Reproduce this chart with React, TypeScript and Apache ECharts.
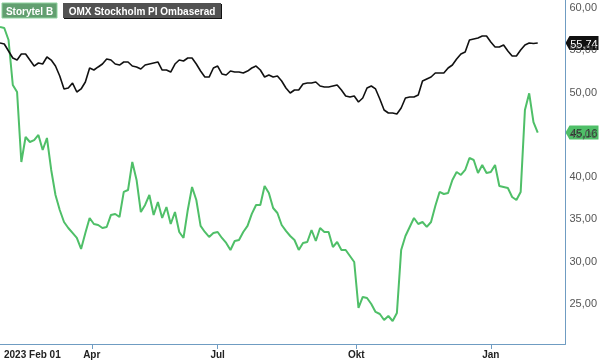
import React, { useEffect, useRef } from 'react';
import * as echarts from 'echarts';

// Sampled every 2nd trading day from 2023-02-01 to 2024-02-01
const storytelB = [
  57.64, 57.52, 56.10, 50.78, 49.95, 41.67, 44.63, 44.04, 44.27, 44.87,
  43.09, 44.51, 40.73, 37.77, 36.00, 34.58, 33.87, 33.28, 32.69, 31.39,
  33.28, 35.05, 34.34, 34.22, 33.87, 33.99, 35.41, 35.53, 35.17, 38.13,
  38.36, 41.67, 39.55, 35.76, 36.59, 37.77, 35.41, 36.94, 35.05, 36.35,
  34.34, 35.76, 33.40, 32.69, 36.00, 38.72, 37.18, 34.11, 33.40, 32.81,
  33.28, 33.40, 32.69, 32.10, 31.27, 32.33, 32.45, 33.40, 34.11, 35.53,
  36.59, 36.59, 38.84, 38.01, 36.23, 35.64, 34.22, 33.52, 32.92, 32.45,
  31.27, 32.10, 32.21, 33.63, 32.33, 33.87, 33.40, 33.40, 31.62, 32.21,
  31.27, 31.27, 30.56, 29.85, 24.41, 25.71, 25.59, 24.88, 23.94, 23.70,
  22.99, 23.46, 22.87, 23.82, 31.27, 32.92, 33.99, 35.05, 34.34, 34.58,
  33.99, 34.58, 36.47, 38.13, 37.89, 38.01, 39.55, 40.49, 40.14, 40.73,
  42.15, 41.91, 40.37, 41.32, 40.37, 40.49, 41.32, 38.84, 38.72, 38.60,
  37.54, 37.18, 38.13, 47.82, 49.80, 46.40, 45.16,
];

const omxPI = [
  55.74, 55.63, 54.80, 53.97, 53.73, 54.44, 54.44, 53.73, 53.02, 53.38,
  53.26, 54.09, 53.73, 53.02, 51.84, 50.31, 50.42, 51.01, 49.95, 50.31,
  51.13, 52.79, 52.55, 52.91, 53.26, 53.85, 53.73, 53.26, 53.14, 53.50,
  53.50, 53.02, 52.91, 52.67, 53.14, 53.26, 53.38, 53.50, 52.55, 52.55,
  52.31, 53.26, 53.73, 53.62, 53.97, 53.97, 53.26, 52.43, 51.72, 51.72,
  52.79, 53.02, 52.08, 51.96, 52.43, 52.31, 52.31, 52.20, 52.43, 52.79,
  53.02, 52.55, 51.72, 51.96, 51.72, 51.84, 51.25, 50.42, 49.83, 50.19,
  50.19, 50.90, 51.01, 51.01, 51.13, 50.66, 50.54, 50.54, 50.66, 50.78,
  50.19, 49.48, 49.36, 49.48, 48.77, 49.24, 50.42, 50.66, 50.31, 49.12,
  47.82, 47.47, 47.47, 47.35, 48.06, 49.24, 49.36, 49.36, 49.60, 51.25,
  51.49, 51.72, 52.20, 52.20, 52.20, 52.79, 53.14, 53.85, 54.44, 54.68,
  56.10, 56.22, 56.34, 56.57, 56.57, 55.86, 55.27, 55.27, 55.51, 54.80,
  54.21, 54.21, 54.92, 55.51, 55.74, 55.68, 55.74,
];

const seriesNames = ['Storytel B', 'OMX Stockholm PI Ombaserad'];
const sampleStep = 2; // trading days between samples
const totalDays = 265; // trading-day slots across the axis
const tickDays = [0, 43, 102, 167, 230];
const tickLabels = ['2023 Feb 01', 'Apr', 'Jul', 'Okt', 'Jan'];
const yTicks = [25, 30, 35, 40, 45, 50, 55, 60];

const FONT = '"Liberation Sans", Arial, Helvetica, sans-serif';
const GREEN = '#4fbf68';
const AXIS = '#6f9cc2';
const fmt = (v: number) => v.toFixed(2).replace('.', ',');

export default function App() {
  const ref = useRef<HTMLDivElement>(null);

  useEffect(() => {
    const chart = echarts.init(ref.current!, null, { renderer: 'svg' });
    const pairs = (arr: number[]) => arr.map((v, k) => [k * sampleStep, v]);

    chart.setOption({
      animation: false,
      grid: { left: -2.4, right: 34, top: 0, bottom: 17, containLabel: false },
      xAxis: {
        type: 'value',
        min: 0,
        max: totalDays,
        axisLine: { show: true, onZero: false, lineStyle: { color: AXIS, width: 1 } },
        axisTick: { show: true, customValues: tickDays.slice(1), length: 5, lineStyle: { color: AXIS } },
        axisLabel: {
          customValues: tickDays,
          alignMinLabel: 'left',
          formatter: (v: number) => {
            const i = tickDays.indexOf(Math.round(v));
            if (i < 0) return '';
            return i === 0 ? '{first|' + tickLabels[0] + '}' : tickLabels[i];
          },
          rich: { first: { padding: [0, 0, 0, 4], fontWeight: 'bold', fontSize: 10, fontFamily: FONT, color: '#222' } },
          color: '#222',
          fontWeight: 'bold',
          fontSize: 10,
          fontFamily: FONT,
          margin: 5,
        },
        splitLine: { show: false },
      },
      yAxis: {
        type: 'value',
        position: 'right',
        min: 20.15,
        max: 60.83,
        axisLine: { show: true, onZero: false, lineStyle: { color: AXIS, width: 1 } },
        axisTick: { show: false },
        axisLabel: {
          customValues: yTicks,
          formatter: (v: number) => fmt(v),
          color: '#555',
          fontSize: 11,
          fontFamily: FONT,
          margin: 4,
        },
        splitLine: { show: false },
      },
      series: [
        {
          name: seriesNames[0],
          type: 'line',
          data: pairs(storytelB),
          showSymbol: false,
          symbol: 'none',
          lineStyle: { color: GREEN, width: 2 },
          z: 2,
        },
        {
          name: seriesNames[1],
          type: 'line',
          data: pairs(omxPI),
          showSymbol: false,
          symbol: 'none',
          lineStyle: { color: '#111', width: 1.6 },
          z: 3,
        },
      ],
    });

    const lastK = storytelB.length - 1;
    const xr = chart.convertToPixel({ xAxisIndex: 0 }, totalDays) as number;
    const yG = chart.convertToPixel({ yAxisIndex: 0 }, storytelB[lastK]) as number;
    const yB = chart.convertToPixel({ yAxisIndex: 0 }, omxPI[omxPI.length - 1]) as number;

    const tag = (y: number, fill: string, textColor: string, value: number) => ({
      type: 'group',
      x: xr,
      y,
      z: 100,
      children: [
        {
          type: 'polygon',
          shape: { points: [[0, 0], [4, -7], [33, -7], [33, 7], [4, 7]] },
          style: { fill },
        },
        {
          type: 'text',
          x: 18.5,
          y: 0.5,
          style: { text: fmt(value), fill: textColor, font: '11px ' + FONT, align: 'center', verticalAlign: 'middle' },
        },
      ],
    });

    chart.setOption({
      graphic: [
        {
          type: 'group',
          x: 2,
          y: 3,
          z: 100,
          children: [
            { type: 'rect', shape: { x: 0, y: 0, width: 55, height: 15 }, style: { fill: '#629f70', stroke: '#8fd39f', lineWidth: 1 } },
            { type: 'text', x: 27.5, y: 8, style: { text: seriesNames[0], fill: '#fff', font: 'bold 10px ' + FONT, align: 'center', verticalAlign: 'middle' } },
          ],
        },
        {
          type: 'group',
          x: 63,
          y: 3,
          z: 100,
          children: [
            { type: 'rect', shape: { x: 1, y: 1, width: 158, height: 15 }, style: { fill: '#111' } },
            { type: 'rect', shape: { x: 0, y: 0, width: 158, height: 15 }, style: { fill: '#525252' } },
            { type: 'text', x: 79, y: 8, style: { text: seriesNames[1], fill: '#fff', font: 'bold 10px ' + FONT, align: 'center', verticalAlign: 'middle' } },
          ],
        },
        tag(yB, '#111', '#fff', omxPI[omxPI.length - 1]),
        tag(yG, GREEN, '#1f3d25', storytelB[lastK]),
      ],
    });

    return () => chart.dispose();
  }, []);

  return <div ref={ref} style={{ position: 'fixed', left: 0, top: 0, width: 600, height: 361 }} />;
}
